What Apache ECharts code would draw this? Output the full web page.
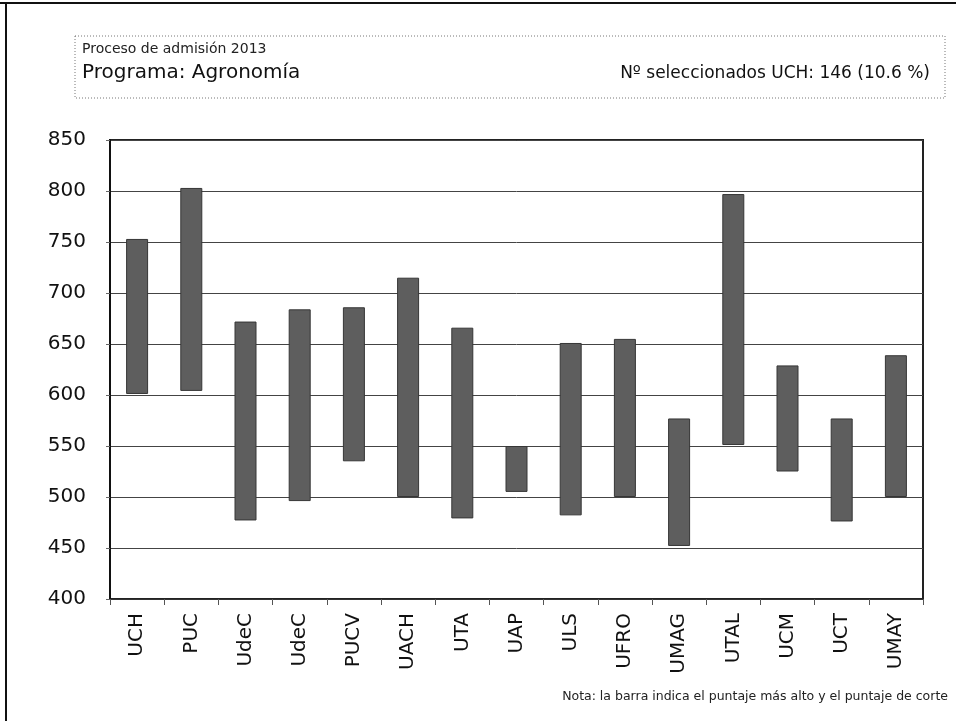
<!DOCTYPE html>
<html>
<head>
<meta charset="utf-8">
<script src="https://cdn.jsdelivr.net/npm/echarts@6/dist/echarts.min.js"></script>
<style>
  html, body { margin: 0; padding: 0; background: #fff; }
  #chart { width: 956px; height: 721px; }
</style>
</head>
<body>
<div id="chart"></div>
<script>
// universidades (UdeC aparece dos veces en el original)
const categories = ['UCH', 'PUC', 'UdeC', 'UdeC', 'PUCV', 'UACH', 'UTA', 'UAP', 'ULS', 'UFRO', 'UMAG', 'UTAL', 'UCM', 'UCT', 'UMAY']
// puntaje más alto
const highScores = [753, 803, 672, 684, 686, 715, 666, 550, 651, 655, 577, 797, 629, 577, 639]
// puntaje de corte
const cutScores = [601, 604, 477, 496, 535, 500, 479, 505, 482, 500, 452, 551, 525, 476, 500]

const yTicks = [400, 450, 500, 550, 600, 650, 700, 750, 800, 850]

const titleSmall = 'Proceso de admisión 2013'
const titleMain = 'Programa: Agronomía'
const titleRight = 'Nº seleccionados UCH: 146 (10.6 %)'
const note = 'Nota: la barra indica el puntaje más alto y el puntaje de corte'

const rangeData = highScores.map((h, i) => h - cutScores[i])

const option = {
  animation: false,
  backgroundColor: '#fff',
  grid: {
    left: 110,
    right: 33,
    top: 140,
    bottom: 122,
    show: true,
    borderColor: '#222',
    borderWidth: 2,
  },
  xAxis: {
    type: 'category',
    data: categories,
    axisLine: { lineStyle: { color: '#333', width: 1 } },
    axisTick: { show: true, length: 6, lineStyle: { color: '#555' } },
    axisLabel: {
      rotate: 90,
      fontSize: 20,
      fontFamily: 'DejaVu Sans',
      color: '#111',
      margin: 14,
    },
  },
  yAxis: {
    type: 'value',
    min: yTicks[0],
    max: yTicks[yTicks.length - 1],
    interval: 50,
    axisLine: { show: true, lineStyle: { color: '#111', width: 2 } },
    axisTick: { show: true, length: 4, lineStyle: { color: '#666' } },
    splitLine: { lineStyle: { color: '#444', width: 1 } },
    axisLabel: {
      fontSize: 20,
      fontFamily: 'DejaVu Sans',
      color: '#111',
      margin: 24,
    },
  },
  series: [
    {
      type: 'bar',
      stack: 'rango',
      data: cutScores,
      barWidth: 22,
      itemStyle: { color: 'transparent' },
      silent: true,
    },
    {
      type: 'bar',
      stack: 'rango',
      data: rangeData,
      barWidth: 22,
      itemStyle: { color: '#5e5e5e', borderColor: '#363636', borderWidth: 1 },
    },
  ],
  graphic: [
    // marco de la página escaneada
    { type: 'line', shape: { x1: 0, y1: 3, x2: 956, y2: 3 }, style: { stroke: '#111', lineWidth: 2 } },
    { type: 'line', shape: { x1: 6, y1: 3, x2: 6, y2: 721 }, style: { stroke: '#111', lineWidth: 2 } },
    // recuadro del título
    {
      type: 'rect',
      shape: { x: 75, y: 36, width: 870, height: 62 },
      style: { fill: 'none', stroke: '#777', lineWidth: 1, lineDash: [1, 2] },
    },
    {
      type: 'text', left: 82, top: 42,
      style: { text: titleSmall, font: '14px "DejaVu Sans"', fill: '#222' },
    },
    {
      type: 'text', left: 82, top: 63,
      style: { text: titleMain, font: '20px "DejaVu Sans"', fill: '#111' },
    },
    {
      type: 'text', right: 26, top: 65,
      style: { text: titleRight, font: '17px "DejaVu Sans"', fill: '#111' },
    },
    {
      type: 'text', right: 8, top: 690,
      style: { text: note, font: '12.5px "DejaVu Sans"', fill: '#222' },
    },
  ],
}

const chart = echarts.init(document.getElementById('chart'), null, { renderer: 'canvas' })
chart.setOption(option)
</script>
</body>
</html>
